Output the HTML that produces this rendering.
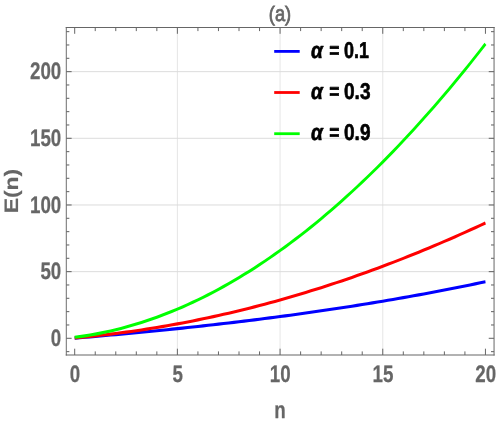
<!DOCTYPE html>
<html><head><meta charset="utf-8"><title>(a)</title>
<style>
html,body{margin:0;padding:0;background:#ffffff;}
body{width:496px;height:425px;overflow:hidden;}
svg{display:block;}
text{font-family:"Liberation Sans",sans-serif;text-rendering:geometricPrecision;}
#txt{opacity:0.999;}
.t{font-weight:bold;fill:#666666;font-size:23.9px;stroke:#666666;stroke-width:0.25px;stroke-linejoin:round;}
.l{font-weight:bold;fill:#000000;font-size:23.9px;stroke:#000000;stroke-width:0.25px;stroke-linejoin:round;}
</style></head><body>
<svg width="496" height="425" viewBox="0 0 496 425">
<rect x="0" y="0" width="496" height="425" fill="#ffffff"/>

<g stroke="#dadada" fill="none">
<line x1="177.39" y1="27.5" x2="177.39" y2="355.0" stroke-width="0.7"/>
<line x1="280.07" y1="27.5" x2="280.07" y2="355.0" stroke-width="0.7"/>
<line x1="382.76" y1="27.5" x2="382.76" y2="355.0" stroke-width="0.7"/>
<line x1="66.3" y1="271.63" x2="494.05" y2="271.63" stroke-width="0.95"/>
<line x1="66.3" y1="204.97" x2="494.05" y2="204.97" stroke-width="0.95"/>
<line x1="66.3" y1="138.31" x2="494.05" y2="138.31" stroke-width="0.95"/>
<line x1="66.3" y1="71.64" x2="494.05" y2="71.64" stroke-width="0.95"/>
</g>
<g transform="scale(0.845,1)" fill="none" stroke-width="3.1" stroke-linejoin="round" stroke-linecap="butt">
<polyline points="88.40,338.12 94.48,337.69 100.55,337.26 106.63,336.83 112.71,336.39 118.78,335.95 124.86,335.50 130.94,335.04 137.01,334.58 143.09,334.12 149.16,333.65 155.24,333.17 161.32,332.69 167.39,332.20 173.47,331.71 179.55,331.21 185.62,330.71 191.70,330.19 197.77,329.68 203.85,329.15 209.93,328.62 216.00,328.09 222.08,327.54 228.15,327.00 234.23,326.44 240.31,325.88 246.38,325.31 252.46,324.73 258.54,324.14 264.61,323.55 270.69,322.95 276.76,322.35 282.84,321.74 288.92,321.11 294.99,320.49 301.07,319.85 307.14,319.21 313.22,318.55 319.30,317.89 325.37,317.22 331.45,316.55 337.53,315.86 343.60,315.17 349.68,314.47 355.75,313.76 361.83,313.04 367.91,312.31 373.98,311.58 380.06,310.83 386.14,310.08 392.21,309.31 398.29,308.54 404.36,307.76 410.44,306.97 416.52,306.17 422.59,305.36 428.67,304.54 434.74,303.71 440.82,302.87 446.90,302.02 452.97,301.16 459.05,300.29 465.13,299.41 471.20,298.52 477.28,297.62 483.35,296.71 489.43,295.79 495.51,294.85 501.58,293.91 507.66,292.96 513.74,291.99 519.81,291.02 525.89,290.03 531.96,289.03 538.04,288.02 544.12,287.00 550.19,285.97 556.27,284.92 562.34,283.87 568.42,282.80 574.50,281.72" stroke="#0000ff"/>
<polyline points="88.40,337.88 94.48,337.42 100.55,336.93 106.63,336.42 112.71,335.89 118.78,335.32 124.86,334.74 130.94,334.13 137.01,333.49 143.09,332.83 149.16,332.14 155.24,331.43 161.32,330.69 167.39,329.93 173.47,329.14 179.55,328.33 185.62,327.49 191.70,326.63 197.77,325.75 203.85,324.83 209.93,323.90 216.00,322.94 222.08,321.95 228.15,320.94 234.23,319.90 240.31,318.84 246.38,317.75 252.46,316.64 258.54,315.51 264.61,314.35 270.69,313.16 276.76,311.96 282.84,310.72 288.92,309.46 294.99,308.18 301.07,306.87 307.14,305.54 313.22,304.18 319.30,302.80 325.37,301.40 331.45,299.97 337.53,298.51 343.60,297.03 349.68,295.53 355.75,294.00 361.83,292.45 367.91,290.87 373.98,289.27 380.06,287.65 386.14,286.00 392.21,284.32 398.29,282.63 404.36,280.90 410.44,279.16 416.52,277.39 422.59,275.59 428.67,273.77 434.74,271.93 440.82,270.06 446.90,268.17 452.97,266.26 459.05,264.32 465.13,262.36 471.20,260.37 477.28,258.36 483.35,256.32 489.43,254.27 495.51,252.18 501.58,250.08 507.66,247.95 513.74,245.79 519.81,243.61 525.89,241.41 531.96,239.19 538.04,236.94 544.12,234.67 550.19,232.37 556.27,230.05 562.34,227.71 568.42,225.34 574.50,222.95" stroke="#ff0000"/>
<polyline points="88.40,337.27 94.48,336.60 100.55,335.85 106.63,335.02 112.71,334.11 118.78,333.13 124.86,332.06 130.94,330.93 137.01,329.71 143.09,328.42 149.16,327.05 155.24,325.60 161.32,324.08 167.39,322.48 173.47,320.81 179.55,319.05 185.62,317.22 191.70,315.32 197.77,313.34 203.85,311.28 209.93,309.14 216.00,306.93 222.08,304.65 228.15,302.28 234.23,299.85 240.31,297.33 246.38,294.74 252.46,292.07 258.54,289.33 264.61,286.51 270.69,283.62 276.76,280.65 282.84,277.61 288.92,274.49 294.99,271.29 301.07,268.02 307.14,264.67 313.22,261.25 319.30,257.75 325.37,254.18 331.45,250.54 337.53,246.81 343.60,243.02 349.68,239.15 355.75,235.20 361.83,231.18 367.91,227.09 373.98,222.92 380.06,218.67 386.14,214.35 392.21,209.96 398.29,205.49 404.36,200.95 410.44,196.33 416.52,191.64 422.59,186.88 428.67,182.04 434.74,177.13 440.82,172.14 446.90,167.08 452.97,161.95 459.05,156.74 465.13,151.46 471.20,146.11 477.28,140.68 483.35,135.18 489.43,129.60 495.51,123.95 501.58,118.23 507.66,112.44 513.74,106.57 519.81,100.63 525.89,94.61 531.96,88.53 538.04,82.37 544.12,76.13 550.19,69.83 556.27,63.45 562.34,57.00 568.42,50.48 574.50,43.88" stroke="#00ff00"/>
</g>
<g stroke="#666666" fill="none" stroke-linecap="square">
<line x1="66.3" y1="27.5" x2="494.05" y2="27.5" stroke-width="1.1"/>
<line x1="66.3" y1="355.0" x2="494.05" y2="355.0" stroke-width="1.1"/>
<line x1="66.3" y1="27.5" x2="66.3" y2="355.0" stroke-width="0.95"/>
<line x1="494.05" y1="27.5" x2="494.05" y2="355.0" stroke-width="1.0"/>
</g>
<g stroke="#666666" stroke-width="1" fill="none">
<line x1="74.70" y1="355.0" x2="74.70" y2="348.7"/>
<line x1="74.70" y1="27.5" x2="74.70" y2="33.8"/>
<line x1="95.24" y1="355.0" x2="95.24" y2="351.4"/>
<line x1="95.24" y1="27.5" x2="95.24" y2="31.1"/>
<line x1="115.78" y1="355.0" x2="115.78" y2="351.4"/>
<line x1="115.78" y1="27.5" x2="115.78" y2="31.1"/>
<line x1="136.31" y1="355.0" x2="136.31" y2="351.4"/>
<line x1="136.31" y1="27.5" x2="136.31" y2="31.1"/>
<line x1="156.85" y1="355.0" x2="156.85" y2="351.4"/>
<line x1="156.85" y1="27.5" x2="156.85" y2="31.1"/>
<line x1="177.39" y1="355.0" x2="177.39" y2="348.7"/>
<line x1="177.39" y1="27.5" x2="177.39" y2="33.8"/>
<line x1="197.93" y1="355.0" x2="197.93" y2="351.4"/>
<line x1="197.93" y1="27.5" x2="197.93" y2="31.1"/>
<line x1="218.46" y1="355.0" x2="218.46" y2="351.4"/>
<line x1="218.46" y1="27.5" x2="218.46" y2="31.1"/>
<line x1="239.00" y1="355.0" x2="239.00" y2="351.4"/>
<line x1="239.00" y1="27.5" x2="239.00" y2="31.1"/>
<line x1="259.54" y1="355.0" x2="259.54" y2="351.4"/>
<line x1="259.54" y1="27.5" x2="259.54" y2="31.1"/>
<line x1="280.07" y1="355.0" x2="280.07" y2="348.7"/>
<line x1="280.07" y1="27.5" x2="280.07" y2="33.8"/>
<line x1="300.61" y1="355.0" x2="300.61" y2="351.4"/>
<line x1="300.61" y1="27.5" x2="300.61" y2="31.1"/>
<line x1="321.15" y1="355.0" x2="321.15" y2="351.4"/>
<line x1="321.15" y1="27.5" x2="321.15" y2="31.1"/>
<line x1="341.69" y1="355.0" x2="341.69" y2="351.4"/>
<line x1="341.69" y1="27.5" x2="341.69" y2="31.1"/>
<line x1="362.23" y1="355.0" x2="362.23" y2="351.4"/>
<line x1="362.23" y1="27.5" x2="362.23" y2="31.1"/>
<line x1="382.76" y1="355.0" x2="382.76" y2="348.7"/>
<line x1="382.76" y1="27.5" x2="382.76" y2="33.8"/>
<line x1="403.30" y1="355.0" x2="403.30" y2="351.4"/>
<line x1="403.30" y1="27.5" x2="403.30" y2="31.1"/>
<line x1="423.84" y1="355.0" x2="423.84" y2="351.4"/>
<line x1="423.84" y1="27.5" x2="423.84" y2="31.1"/>
<line x1="444.38" y1="355.0" x2="444.38" y2="351.4"/>
<line x1="444.38" y1="27.5" x2="444.38" y2="31.1"/>
<line x1="464.91" y1="355.0" x2="464.91" y2="351.4"/>
<line x1="464.91" y1="27.5" x2="464.91" y2="31.1"/>
<line x1="485.45" y1="355.0" x2="485.45" y2="348.7"/>
<line x1="485.45" y1="27.5" x2="485.45" y2="33.8"/>
<line x1="66.3" y1="351.63" x2="69.34" y2="351.63" stroke-width="1.05"/>
<line x1="494.05" y1="351.63" x2="491.01" y2="351.63" stroke-width="1.05"/>
<line x1="66.3" y1="338.30" x2="71.62" y2="338.30" stroke-width="1.05"/>
<line x1="494.05" y1="338.30" x2="488.73" y2="338.30" stroke-width="1.05"/>
<line x1="66.3" y1="324.97" x2="69.34" y2="324.97" stroke-width="1.05"/>
<line x1="494.05" y1="324.97" x2="491.01" y2="324.97" stroke-width="1.05"/>
<line x1="66.3" y1="311.63" x2="69.34" y2="311.63" stroke-width="1.05"/>
<line x1="494.05" y1="311.63" x2="491.01" y2="311.63" stroke-width="1.05"/>
<line x1="66.3" y1="298.30" x2="69.34" y2="298.30" stroke-width="1.05"/>
<line x1="494.05" y1="298.30" x2="491.01" y2="298.30" stroke-width="1.05"/>
<line x1="66.3" y1="284.97" x2="69.34" y2="284.97" stroke-width="1.05"/>
<line x1="494.05" y1="284.97" x2="491.01" y2="284.97" stroke-width="1.05"/>
<line x1="66.3" y1="271.63" x2="71.62" y2="271.63" stroke-width="1.05"/>
<line x1="494.05" y1="271.63" x2="488.73" y2="271.63" stroke-width="1.05"/>
<line x1="66.3" y1="258.30" x2="69.34" y2="258.30" stroke-width="1.05"/>
<line x1="494.05" y1="258.30" x2="491.01" y2="258.30" stroke-width="1.05"/>
<line x1="66.3" y1="244.97" x2="69.34" y2="244.97" stroke-width="1.05"/>
<line x1="494.05" y1="244.97" x2="491.01" y2="244.97" stroke-width="1.05"/>
<line x1="66.3" y1="231.64" x2="69.34" y2="231.64" stroke-width="1.05"/>
<line x1="494.05" y1="231.64" x2="491.01" y2="231.64" stroke-width="1.05"/>
<line x1="66.3" y1="218.30" x2="69.34" y2="218.30" stroke-width="1.05"/>
<line x1="494.05" y1="218.30" x2="491.01" y2="218.30" stroke-width="1.05"/>
<line x1="66.3" y1="204.97" x2="71.62" y2="204.97" stroke-width="1.05"/>
<line x1="494.05" y1="204.97" x2="488.73" y2="204.97" stroke-width="1.05"/>
<line x1="66.3" y1="191.64" x2="69.34" y2="191.64" stroke-width="1.05"/>
<line x1="494.05" y1="191.64" x2="491.01" y2="191.64" stroke-width="1.05"/>
<line x1="66.3" y1="178.30" x2="69.34" y2="178.30" stroke-width="1.05"/>
<line x1="494.05" y1="178.30" x2="491.01" y2="178.30" stroke-width="1.05"/>
<line x1="66.3" y1="164.97" x2="69.34" y2="164.97" stroke-width="1.05"/>
<line x1="494.05" y1="164.97" x2="491.01" y2="164.97" stroke-width="1.05"/>
<line x1="66.3" y1="151.64" x2="69.34" y2="151.64" stroke-width="1.05"/>
<line x1="494.05" y1="151.64" x2="491.01" y2="151.64" stroke-width="1.05"/>
<line x1="66.3" y1="138.31" x2="71.62" y2="138.31" stroke-width="1.05"/>
<line x1="494.05" y1="138.31" x2="488.73" y2="138.31" stroke-width="1.05"/>
<line x1="66.3" y1="124.97" x2="69.34" y2="124.97" stroke-width="1.05"/>
<line x1="494.05" y1="124.97" x2="491.01" y2="124.97" stroke-width="1.05"/>
<line x1="66.3" y1="111.64" x2="69.34" y2="111.64" stroke-width="1.05"/>
<line x1="494.05" y1="111.64" x2="491.01" y2="111.64" stroke-width="1.05"/>
<line x1="66.3" y1="98.31" x2="69.34" y2="98.31" stroke-width="1.05"/>
<line x1="494.05" y1="98.31" x2="491.01" y2="98.31" stroke-width="1.05"/>
<line x1="66.3" y1="84.97" x2="69.34" y2="84.97" stroke-width="1.05"/>
<line x1="494.05" y1="84.97" x2="491.01" y2="84.97" stroke-width="1.05"/>
<line x1="66.3" y1="71.64" x2="71.62" y2="71.64" stroke-width="1.05"/>
<line x1="494.05" y1="71.64" x2="488.73" y2="71.64" stroke-width="1.05"/>
<line x1="66.3" y1="58.31" x2="69.34" y2="58.31" stroke-width="1.05"/>
<line x1="494.05" y1="58.31" x2="491.01" y2="58.31" stroke-width="1.05"/>
<line x1="66.3" y1="44.97" x2="69.34" y2="44.97" stroke-width="1.05"/>
<line x1="494.05" y1="44.97" x2="491.01" y2="44.97" stroke-width="1.05"/>
<line x1="66.3" y1="31.64" x2="69.34" y2="31.64" stroke-width="1.05"/>
<line x1="494.05" y1="31.64" x2="491.01" y2="31.64" stroke-width="1.05"/>
</g>
<g id="txt">
<text class="t" transform="translate(74.90,381.80) scale(0.785,1)" text-anchor="middle" >0</text>
<text class="t" transform="translate(177.59,381.80) scale(0.785,1)" text-anchor="middle" >5</text>
<text class="t" transform="translate(280.27,381.80) scale(0.785,1)" text-anchor="middle" >10</text>
<text class="t" transform="translate(382.96,381.80) scale(0.785,1)" text-anchor="middle" >15</text>
<text class="t" transform="translate(485.65,381.80) scale(0.785,1)" text-anchor="middle" >20</text>
<text class="t" transform="translate(61.30,346.10) scale(0.785,1)" text-anchor="end" >0</text>
<text class="t" transform="translate(61.30,279.44) scale(0.785,1)" text-anchor="end" >50</text>
<text class="t" transform="translate(61.30,212.77) scale(0.785,1)" text-anchor="end" >100</text>
<text class="t" transform="translate(61.30,146.11) scale(0.785,1)" text-anchor="end" >150</text>
<text class="t" transform="translate(61.30,79.44) scale(0.785,1)" text-anchor="end" >200</text>
<text class="t" transform="translate(280.10,418.30) scale(0.785,1)" text-anchor="middle" >n</text>
<text class="t" transform="translate(17.5,191.1) scale(0.85,1) rotate(-90)" text-anchor="middle" style="font-size:22.9px;stroke-width:0.2px;">E(n)</text>
<text transform="translate(268.84,21.3) scale(0.83,0.945)" style="font-size:22px;fill:#666666;stroke:#666666;stroke-width:0.8px;">(</text>
<text transform="translate(274.92,21.2) scale(0.83,1)" style="font-size:22px;fill:#666666;stroke:#666666;stroke-width:0.8px;">a</text>
<text transform="translate(285.08,21.3) scale(0.83,0.945)" style="font-size:22px;fill:#666666;stroke:#666666;stroke-width:0.8px;">)</text>
<line x1="274.2" y1="51.4" x2="299.7" y2="51.4" stroke="#0000ff" stroke-width="2.8"/>
<text class="l" transform="translate(311.0,58.00) scale(0.840,1)" font-style="italic" style="font-size:22.8px;stroke-width:0.65px">α</text>
<text class="l" transform="translate(334.25,58.00) scale(0.769,1)" text-anchor="middle" style="font-size:22.8px;stroke-width:0.65px">=</text>
<text class="l" transform="translate(344.0,58.00) scale(0.785,1)" style="font-size:22.8px;stroke-width:0.65px">0.1</text>
<line x1="274.2" y1="92.5" x2="299.7" y2="92.5" stroke="#ff0000" stroke-width="2.8"/>
<text class="l" transform="translate(311.0,99.10) scale(0.840,1)" font-style="italic" style="font-size:22.8px;stroke-width:0.65px">α</text>
<text class="l" transform="translate(334.25,99.10) scale(0.769,1)" text-anchor="middle" style="font-size:22.8px;stroke-width:0.65px">=</text>
<text class="l" transform="translate(344.0,99.10) scale(0.836,1)" style="font-size:22.8px;stroke-width:0.65px">0.3</text>
<line x1="274.2" y1="133.7" x2="299.7" y2="133.7" stroke="#00ff00" stroke-width="2.8"/>
<text class="l" transform="translate(311.0,140.30) scale(0.840,1)" font-style="italic" style="font-size:22.8px;stroke-width:0.65px">α</text>
<text class="l" transform="translate(334.25,140.30) scale(0.769,1)" text-anchor="middle" style="font-size:22.8px;stroke-width:0.65px">=</text>
<text class="l" transform="translate(344.0,140.30) scale(0.836,1)" style="font-size:22.8px;stroke-width:0.65px">0.9</text>
</g>
</svg></body></html>
